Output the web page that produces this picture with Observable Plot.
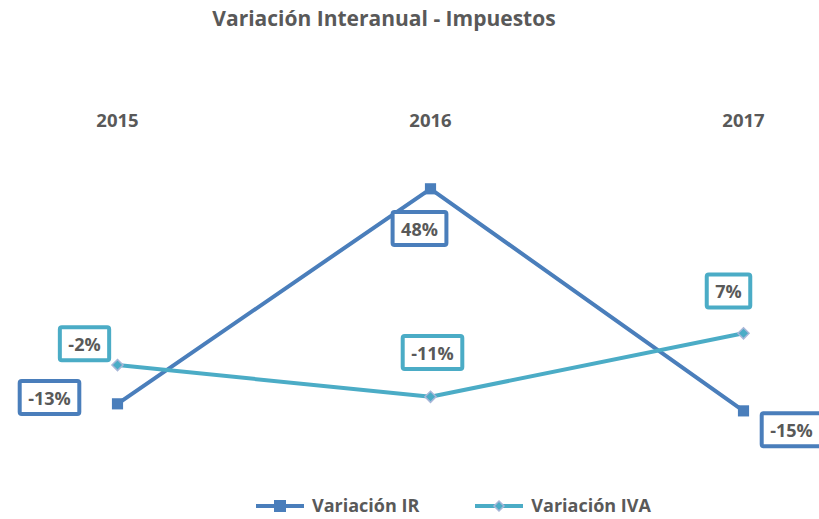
<!DOCTYPE html>
<html><head><meta charset="utf-8">
<script src="https://cdn.jsdelivr.net/npm/d3@7"></script>
<script src="https://cdn.jsdelivr.net/npm/@observablehq/plot@0.6"></script>
<style>
body{margin:0;background:#fff;font-family:"Open Sans",Lato,sans-serif;}
#wrap{position:relative;width:819px;height:519px;overflow:hidden;background:#fff;}
#title{position:absolute;left:0;top:4px;width:768px;text-align:center;font-size:21px;font-weight:bold;color:#595959;}
#chart{position:absolute;left:0;top:50px;}
#legend{position:absolute;top:496px;left:256px;height:19px;line-height:19px;display:flex;align-items:center;font-size:18px;font-weight:bold;color:#595959;}
#legend .item{display:flex;align-items:center;height:19px;}
#legend .item:first-child{margin-right:56px;}
#legend svg{margin-right:8px;}
</style>
</head><body>
<div id="wrap">
  <div id="title">Variación Interanual - Impuestos</div>
  <div id="chart"></div>
  <div id="legend"></div>
</div>
<script>
// ---- data ----
const years = ["2015", "2016", "2017"];
const seriesNames = ["Variación IR", "Variación IVA"];
const irValues = [-13, 48, -15];
const ivaValues = [-2, -11, 7];

// ---- styling / layout (not data) ----
const colors = {"Variación IR": "#4a7ebb", "Variación IVA": "#4bacc6"};
const labelOffsets = {
  "Variación IR": [[-68, -5], [-11, 41], [48, 20]],
  "Variación IVA": [[-33, -20], [2, -43], [-15, -41]]
};

const rows = [];
years.forEach((y, i) => {
  rows.push({series: seriesNames[0], year: y, v: irValues[i], i});
  rows.push({series: seriesNames[1], year: y, v: ivaValues[i], i});
});
const irRows = rows.filter(d => d.series === seriesNames[0]);
const ivaRows = rows.filter(d => d.series === seriesNames[1]);

const labelMarks = [];
const labelColors = [];
for (const d of rows) {
  const [dx, dy] = labelOffsets[d.series][d.i];
  labelMarks.push(Plot.text([d], {
    x: "year", y: "v", text: r => r.v + "%", dx, dy,
    fontSize: 18, fontWeight: "bold", fill: "#595959", textAnchor: "middle"
  }));
  labelColors.push(colors[d.series]);
}

const chart = Plot.plot({
  width: 819,
  height: 440,
  marginLeft: 116,
  marginRight: 76,
  marginTop: 96,
  marginBottom: 62,
  style: {fontFamily: "'Open Sans', Lato, sans-serif", background: "#fff", overflow: "visible"},
  x: {type: "point", domain: years, padding: 0},
  y: {domain: [-20, 60], axis: null},
  marks: [
    Plot.axisX({anchor: "top", tickSize: 0, tickPadding: 20, fontSize: 18.5, fontWeight: "bold", fill: "#595959", label: null}),
    Plot.line(irRows, {x: "year", y: "v", stroke: colors["Variación IR"], strokeWidth: 4}),
    Plot.line(ivaRows, {x: "year", y: "v", stroke: colors["Variación IVA"], strokeWidth: 4}),
    Plot.dot(irRows, {x: "year", y: "v", symbol: "square", r: 6.3, fill: colors["Variación IR"]}),
    Plot.dot(ivaRows, {x: "year", y: "v", symbol: "diamond2", r: 5, fill: colors["Variación IVA"], stroke: "#a7b6d8", strokeWidth: 1.5}),
    ...labelMarks
  ]
});
document.getElementById("chart").appendChild(chart);

// label boxes drawn around the rendered label texts
const labelTexts = chart.querySelectorAll('g[aria-label="text"] text');
labelTexts.forEach((t, k) => {
  const b = t.getBBox();
  const cy = b.y + b.height / 2;
  const w = b.width + 17, h = 33;
  const rect = document.createElementNS("http://www.w3.org/2000/svg", "rect");
  rect.setAttribute("x", b.x - 8.5);
  rect.setAttribute("y", cy - h / 2);
  rect.setAttribute("width", w);
  rect.setAttribute("height", h);
  rect.setAttribute("rx", 2);
  rect.setAttribute("fill", "#fff");
  rect.setAttribute("stroke", labelColors[k]);
  rect.setAttribute("stroke-width", 4);
  const tr = t.getAttribute("transform");
  if (tr) rect.setAttribute("transform", tr);
  t.parentNode.insertBefore(rect, t);
});

// legend
const legend = document.getElementById("legend");
seriesNames.forEach(name => {
  const item = document.createElement("div");
  item.className = "item";
  const c = colors[name];
  const marker = name === seriesNames[0]
    ? `<rect x="18" y="3" width="12" height="12" fill="${c}"/>`
    : `<path d="M24 4 L29 9 L24 14 L19 9 Z" fill="${c}" stroke="#a7b6d8" stroke-width="1.5"/>`;
  item.innerHTML = `<svg width="48" height="18"><line x1="0" y1="9" x2="48" y2="9" stroke="${c}" stroke-width="4"/>${marker}</svg><span>${name}</span>`;
  legend.appendChild(item);
});
</script>
</body></html>
